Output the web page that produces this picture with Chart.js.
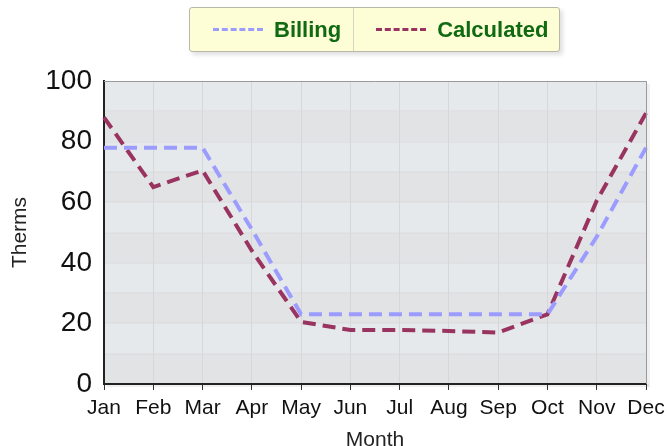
<!DOCTYPE html>
<html>
<head>
<meta charset="utf-8">
<script src="https://cdn.jsdelivr.net/npm/chart.js@4/dist/chart.umd.min.js"></script>
<style>
  html, body { margin: 0; padding: 0; background: #fff; }
  #wrap { position: relative; width: 667px; height: 446px; }
  #legend {
    position: absolute; left: 189px; top: 7px; width: 371px; height: 45px;
    background: #fdfdd6; border: 1px solid #b8b8a8; border-radius: 3px;
    box-shadow: 3px 3px 4px rgba(0,0,0,0.12);
    display: flex; font-family: "Liberation Sans", Arial, sans-serif;
    font-weight: bold; font-size: 22px; color: #0f6a12; box-sizing: border-box;
  }
  #legend .item { display: flex; align-items: center; height: 100%; }
  #legend .item + .item { border-left: 1px solid #d6d6c0; }
  #legend .sw { width: 50px; height: 0; border-top: 3px dashed; margin: 0 11px 0 0; }
</style>
</head>
<body>
<div id="wrap">
  <canvas id="c" width="667" height="446"></canvas>
  <div id="legend"></div>
</div>
<script>
const months = ["Jan","Feb","Mar","Apr","May","Jun","Jul","Aug","Sep","Oct","Nov","Dec"];
const billing = [78, 78, 78, 51, 23, 23, 23, 23, 23, 23, 48.6, 78];
const calculated = [88, 65, 70.5, 44, 20.5, 17.8, 17.8, 17.5, 17, 23, 60.5, 89.4];
const seriesNames = ["Billing", "Calculated"];
const seriesColors = ["#9c9cff", "#993360"];
const yTicks = [0, 20, 40, 60, 80, 100];

// HTML legend (real text)
const leg = document.getElementById('legend');
seriesNames.forEach((n, i) => {
  const it = document.createElement('div');
  it.className = 'item';
  it.style.paddingLeft = i === 0 ? '23px' : '22px';
  it.style.width = i === 0 ? '164px' : '207px';
  it.style.boxSizing = 'border-box';
  const sw = document.createElement('span');
  sw.className = 'sw';
  sw.style.borderColor = seriesColors[i];
  const tx = document.createElement('span');
  tx.textContent = n;
  it.appendChild(sw); it.appendChild(tx);
  leg.appendChild(it);
});

const bandPlugin = {
  id: 'bands',
  beforeDraw(chart) {
    const { ctx, chartArea: a, scales: { y } } = chart;
    ctx.save();
    for (let v = 0; v < 100; v += 10) {
      const top = y.getPixelForValue(v + 10), bot = y.getPixelForValue(v);
      ctx.fillStyle = (v / 10) % 2 === 0 ? '#e2e3e5' : '#e6e9ec';
      ctx.fillRect(a.left, top, a.right - a.left, bot - top);
      if (v > 0) {
        ctx.fillStyle = '#d9dadc';
        ctx.fillRect(a.left, Math.round(bot) - 0.5, a.right - a.left, 1);
      }
    }
    ctx.fillStyle = 'rgba(0,0,0,0.06)';
    ctx.fillRect(a.right, a.top + 3, 4, a.bottom - a.top);
    ctx.fillRect(a.left + 3, a.bottom, a.right - a.left, 3);
    ctx.restore();
  },
  afterDatasetsDraw(chart) {
    const { ctx, chartArea: a } = chart;
    ctx.save();
    ctx.strokeStyle = '#9a9a9a';
    ctx.lineWidth = 1;
    ctx.beginPath();
    ctx.moveTo(a.left, a.top + 0.5); ctx.lineTo(a.right + 0.5, a.top + 0.5);
    ctx.lineTo(a.right + 0.5, a.bottom);
    ctx.stroke();
    ctx.restore();
  }
};

new Chart(document.getElementById('c'), {
  type: 'line',
  data: {
    labels: months,
    datasets: [
      { label: seriesNames[0], data: billing, borderColor: seriesColors[0], borderWidth: 4,
        borderDash: [13, 7], pointRadius: 0, tension: 0, fill: false },
      { label: seriesNames[1], data: calculated, borderColor: seriesColors[1], borderWidth: 4,
        borderDash: [13, 7], pointRadius: 0, tension: 0, fill: false }
    ]
  },
  options: {
    responsive: false,
    animation: false,
    events: [],
    layout: { padding: { top: 81, right: 21, left: 0, bottom: 0 } },
    plugins: { legend: { display: false }, tooltip: { enabled: false } },
    scales: {
      x: {
        offset: false,
        grid: { color: '#d6d7d9', lineWidth: 1, drawTicks: true, tickLength: 6, tickColor: '#333' },
        border: { color: '#222', width: 2 },
        ticks: { color: '#111', font: { family: 'Liberation Sans', size: 21 }, padding: 6, maxRotation: 0, autoSkip: false },
        title: { display: true, text: 'Month', color: '#222', font: { family: 'Liberation Sans', size: 21 }, padding: { top: 0, bottom: -7 } },
        afterFit(s) { s.height = 62; s.paddingLeft = 0; s.paddingRight = 0; }
      },
      y: {
        min: 0, max: 100,
        afterBuildTicks(s) { s.ticks = yTicks.map(v => ({ value: v })); },
        grid: { display: false, drawTicks: true, tickLength: 6, tickColor: '#333' },
        border: { color: '#222', width: 2 },
        ticks: { color: '#111', font: { family: 'Liberation Sans', size: 28 }, padding: 6 },
        title: { display: true, text: 'Therms', color: '#222', font: { family: 'Liberation Sans', size: 21 }, padding: { top: 8, bottom: 0 } },
        afterFit(s) { s.width = 104; s.paddingTop = 0; s.paddingBottom = 0; }
      }
    }
  },
  plugins: [bandPlugin]
});
</script>
</body>
</html>
